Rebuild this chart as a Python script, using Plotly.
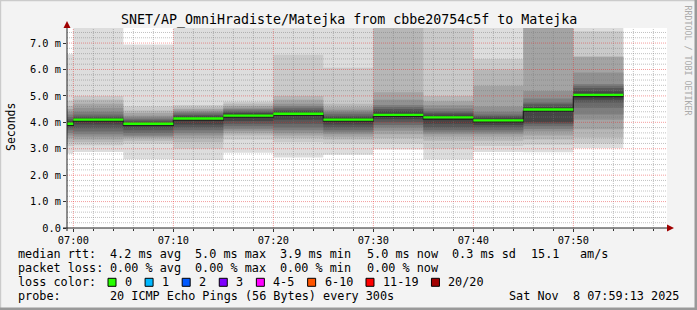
import plotly.graph_objects as go

# ------------------------------------------------------------------ data
DAY = "2025-11-08 "
step_starts = ["06:55", "07:00", "07:05", "07:10", "07:15", "07:20",
               "07:25", "07:30", "07:35", "07:40", "07:45", "07:50"]
step_end = "07:55"

median_ms = [3.93, 4.09, 3.93, 4.13, 4.24, 4.31, 4.09, 4.27, 4.17, 4.06, 4.47, 5.02]

OFF = 8.0  # ping above the chart top (clipped, drawn to the top edge)

# 20 sorted ping times (ms) per 5-minute step
pings_0655 = [2.82, 3.10, 3.25, 3.40, 3.50, 3.60, 3.70, 3.78, 3.85, 3.90,
              3.97, 4.05, 4.12, 4.20, 4.30, 4.40, 4.50, 4.62, 4.82, 6.58]
pings_0700 = [2.88, 3.13, 3.25, 3.35, 3.45, 3.55, 3.65, 3.78, 3.92, 4.04,
              4.12, 4.17, 4.22, 4.30, 4.40, 4.55, 4.70, 4.85, 5.00, OFF]
pings_0705 = [2.60, 3.20, 3.30, 3.40, 3.45, 3.50, 3.60, 3.70, 3.80, 3.88,
              3.97, 4.02, 4.07, 4.12, 4.18, 4.25, 4.35, 4.45, 4.60, 6.95]
pings_0710 = [2.57, 3.00, 3.25, 3.40, 3.50, 3.60, 3.70, 3.80, 3.92, 4.07,
              4.18, 4.23, 4.28, 4.33, 4.38, 4.44, 4.50, 4.57, 4.66, OFF]
pings_0715 = [2.85, 3.35, 3.50, 3.60, 3.68, 3.76, 3.85, 3.95, 4.05, 4.18,
              4.30, 4.35, 4.40, 4.45, 4.50, 4.55, 4.62, 4.70, 4.78, OFF]
pings_0720 = [2.67, 3.25, 3.40, 3.50, 3.60, 3.70, 3.80, 3.95, 4.10, 4.26,
              4.36, 4.42, 4.48, 4.55, 4.62, 4.70, 4.85, 5.00, 6.56, OFF]
pings_0725 = [2.77, 3.20, 3.35, 3.45, 3.55, 3.62, 3.70, 3.80, 3.92, 4.04,
              4.14, 4.19, 4.25, 4.32, 4.40, 4.48, 4.57, 4.70, 6.07, OFF]
pings_0730 = [2.97, 3.20, 3.40, 3.55, 3.68, 3.80, 3.90, 4.00, 4.12, 4.22,
              4.32, 4.42, 4.50, 4.58, 4.66, 4.85, 5.14, OFF, OFF, OFF]
pings_0735 = [2.59, 3.00, 3.30, 3.45, 3.55, 3.62, 3.70, 3.80, 3.95, 4.10,
              4.24, 4.30, 4.36, 4.42, 4.52, 4.65, 4.80, 5.00, OFF, OFF]
pings_0740 = [2.88, 3.10, 3.30, 3.45, 3.55, 3.62, 3.70, 3.80, 3.90, 4.00,
              4.12, 4.18, 4.24, 4.30, 4.40, 4.60, 5.38, 6.00, 6.40, OFF]
pings_0745 = [2.87, 3.15, 3.35, 3.50, 3.65, 3.75, 3.85, 3.95, 4.00, 4.42,
              4.52, 4.58, 4.68, 4.75, 4.90, 5.19, OFF, OFF, OFF, OFF]
pings_0750 = [3.02, 3.20, 3.43, 3.74, 4.10, 4.30, 4.55, 4.75, 4.85, 4.97,
              5.07, 5.18, 5.30, 5.38, 5.45, 5.89, 6.47, 6.50, 7.45, OFF]

y_tick_vals = [0, 1, 2, 3, 4, 5, 6, 7]
y_tick_text = ["0.0", "1.0 m", "2.0 m", "3.0 m", "4.0 m", "5.0 m", "6.0 m", "7.0 m"]
x_tick_times = ["07:00", "07:10", "07:20", "07:30", "07:40", "07:50"]
x_tick_text = ["07:00", "07:10", "07:20", "07:30", "07:40", "07:50"]

loss_labels = ["0", "1", "2", "3", "4-5", "6-10", "11-19", "20/20"]
loss_colors = ["#26ff00", "#00b8ff", "#0059ff", "#7e00ff",
               "#ff00ff", "#ff5500", "#ff0000", "#a10000"]

title_text = "SNET/AP_OmniHradiste/Matejka from cbbe20754c5f to Matejka"
median_row = [("median rtt:", 16), ("4.2 ms avg", 108.2), ("5.0 ms max", 193.2),
              ("3.9 ms min", 278.3), ("5.0 ms now", 364.5), ("0.3 ms sd", 450.3),
              ("15.1", 529), ("am/s", 578.3)]
loss_row = [("packet loss:", 16), ("0.00 % avg", 108.2), ("0.00 % max", 193.2),
            ("0.00 % min", 278.3), ("0.00 % now", 364.5)]
probe_text = "20 ICMP Echo Pings (56 Bytes) every 300s"
date_text = "Sat Nov  8 07:59:13 2025"

# ------------------------------------------------------------------ layout constants
W, H = 697, 310
L, R, T, B = 67, 30, 28, 82
PW, PH = W - L - R, H - T - B
Y_TOP = 7.57
X_RANGE = [DAY + "06:59:22", DAY + "07:59:22"]
MONO = "DejaVu Sans Mono"


def px(x):
    return (x - L) / PW


def py(y):
    return (T + PH - y) / PH


all_pings = [pings_0655, pings_0700, pings_0705, pings_0710, pings_0715, pings_0720,
             pings_0725, pings_0730, pings_0735, pings_0740, pings_0745, pings_0750]

xs = [DAY + t for t in step_starts] + [DAY + step_end]

fig = go.Figure()

# smoke: nested bands, outer (light) to inner (dark), like SmokePing
n = len(all_pings[0])
half = n // 2
for ibot in range(half):
    itop = n - 1 - ibot
    g = int(190 / half * (half - (ibot + 1))) + 50
    col = "#%02x%02x%02x" % (g, g, g)
    lo = [p[ibot] for p in all_pings]
    hi = [p[itop] for p in all_pings]
    fig.add_trace(go.Scatter(x=xs, y=lo + [lo[-1]], mode="lines", line=dict(width=0, shape="hv"),
                             hoverinfo="skip", showlegend=False))
    fig.add_trace(go.Scatter(x=xs, y=hi + [hi[-1]], mode="lines", line=dict(width=0, shape="hv"),
                             fill="tonexty", fillcolor=col, hoverinfo="skip", showlegend=False))

# grid lines drawn above the smoke
x_start_min = 7 * 60
minor_x, minor_y_pts, major_x, major_y_pts = [], [], [], []
for m in range(0, 60, 2):
    t = DAY + "%02d:%02d" % ((x_start_min + m) // 60, (x_start_min + m) % 60)
    if m % 10 == 0:
        major_x += [t, t, None]
        major_y_pts += [0, Y_TOP, None]
    else:
        minor_x += [t, t, None]
        minor_y_pts += [0, Y_TOP, None]
for k in range(1, 38):
    v = round(k * 0.2, 1)
    if k % 5 == 0:
        major_x += [X_RANGE[0], X_RANGE[1], None]
        major_y_pts += [v, v, None]
    else:
        minor_x += [X_RANGE[0], X_RANGE[1], None]
        minor_y_pts += [v, v, None]
fig.add_trace(go.Scatter(x=minor_x, y=minor_y_pts, mode="lines",
                         line=dict(width=1, color="rgba(120,120,120,0.45)", dash="1px,1px"),
                         hoverinfo="skip", showlegend=False))
fig.add_trace(go.Scatter(x=major_x, y=major_y_pts, mode="lines",
                         line=dict(width=1, color="rgba(230,40,40,0.45)", dash="1px,1px"),
                         hoverinfo="skip", showlegend=False))

# median: dark step line + green loss-colour segments
px_per_ms = PH / Y_TOP
fig.add_trace(go.Scatter(x=xs, y=[m - 1.2 / px_per_ms for m in median_ms] + [median_ms[-1] - 1.2 / px_per_ms],
                         mode="lines", line=dict(width=1.2, color="#202020", shape="hv"),
                         hoverinfo="skip", showlegend=False))
gx, gy = [], []
for i, m in enumerate(median_ms):
    gx += [xs[i], xs[i + 1], None]
    gy += [m + 0.4 / px_per_ms, m + 0.4 / px_per_ms, None]
fig.add_trace(go.Scatter(x=gx, y=gy, mode="lines", line=dict(width=2.3, color=loss_colors[0]),
                         hoverinfo="skip", showlegend=False))

fig.update_xaxes(type="date", range=X_RANGE, tickmode="array",
                 tickvals=[DAY + t for t in x_tick_times], ticktext=x_tick_text,
                 ticks="outside", ticklen=3, tickcolor="#333", showgrid=False, zeroline=False,
                 showline=False, tickfont=dict(family=MONO, size=10.3, color="#000"),
                 minor=dict(ticks="outside", ticklen=2, dtick=120000, tick0=DAY + "07:00",
                            tickcolor="#333", showgrid=False),
                 fixedrange=True)
fig.update_yaxes(range=[0, Y_TOP], tickmode="array", tickvals=y_tick_vals, ticktext=y_tick_text,
                 ticks="outside", ticklen=3, tickcolor="#333", showgrid=False, zeroline=False,
                 showline=False, tickfont=dict(family=MONO, size=10.3, color="#000"),
                 fixedrange=True)

shapes = []
# frame (3-D border)
shapes.append(dict(type="rect", xref="paper", yref="paper", x0=px(0), x1=px(697), y0=py(0), y1=py(1.2),
                   fillcolor="#cbcbcb", line=dict(width=0), layer="below"))
shapes.append(dict(type="rect", xref="paper", yref="paper", x0=px(0), x1=px(1.2), y0=py(0), y1=py(310),
                   fillcolor="#cbcbcb", line=dict(width=0), layer="below"))
shapes.append(dict(type="rect", xref="paper", yref="paper", x0=px(694.5), x1=px(697), y0=py(0), y1=py(310),
                   fillcolor="#999999", line=dict(width=0), layer="below"))
shapes.append(dict(type="rect", xref="paper", yref="paper", x0=px(0), x1=px(697), y0=py(307.5), y1=py(310),
                   fillcolor="#999999", line=dict(width=0), layer="below"))
# axis lines + arrows
shapes.append(dict(type="line", xref="paper", yref="paper", x0=px(63), x1=px(670), y0=py(228), y1=py(228),
                   line=dict(color="#222", width=1), layer="above"))
shapes.append(dict(type="line", xref="paper", yref="paper", x0=px(67), x1=px(67), y0=py(231), y1=py(25),
                   line=dict(color="#222", width=1), layer="above"))
shapes.append(dict(type="path", xref="paper", yref="paper",
                   path="M %f %f L %f %f L %f %f Z" % (px(63.5), py(28), px(70.5), py(28), px(67), py(21)),
                   fillcolor="#a00000", line=dict(width=0), layer="above"))
shapes.append(dict(type="path", xref="paper", yref="paper",
                   path="M %f %f L %f %f L %f %f Z" % (px(667), py(224.5), px(667), py(231.5), px(674), py(228)),
                   fillcolor="#a00000", line=dict(width=0), layer="above"))

annotations = []


def text(s, x, y, size=11.8, xanchor="left", color="#000", angle=0):
    annotations.append(dict(text=s.replace(" ", "\u00a0"), x=px(x), y=py(y), xref="paper", yref="paper",
                            xanchor=xanchor, yanchor="middle", showarrow=False, textangle=angle,
                            font=dict(family=MONO, size=size, color=color)))


text(title_text, 348.5, 20, size=13.3, xanchor="center")
text("Seconds", 11, 127, size=11.5, xanchor="center", angle=-90)
text("RRDTOOL / TOBI OETIKER", 687.5, 60, size=8.3, xanchor="center", color="#aaaaaa", angle=90)

ROW_Y = [254.3, 268.3, 282.3, 296.2]
for s, x in median_row:
    text(s, x, ROW_Y[0])
for s, x in loss_row:
    text(s, x, ROW_Y[1])
text("loss color:", 16, ROW_Y[2])
cw = 7.09
bx = 108.0
for lab, c in zip(loss_labels, loss_colors):
    shapes.append(dict(type="rect", xref="paper", yref="paper", x0=px(bx), x1=px(bx + 8),
                       y0=py(ROW_Y[2] + 4), y1=py(ROW_Y[2] - 4), fillcolor=c,
                       line=dict(color="#000", width=1), layer="above"))
    text(lab, bx + 15, ROW_Y[2])
    bx = bx + 15 + len(lab) * cw + 15
text("probe:", 16, ROW_Y[3])
text(probe_text, 108.2, ROW_Y[3])
text(date_text, 681, ROW_Y[3], xanchor="right")

fig.update_layout(width=W, height=H, autosize=False,
                  margin=dict(l=L, r=R, t=T, b=B, pad=0),
                  paper_bgcolor="#f3f3f3", plot_bgcolor="#ffffff",
                  showlegend=False, shapes=shapes, annotations=annotations,
                  font=dict(family=MONO))

fig.write_html("out.html", config={"displayModeBar": False, "staticPlot": True})
